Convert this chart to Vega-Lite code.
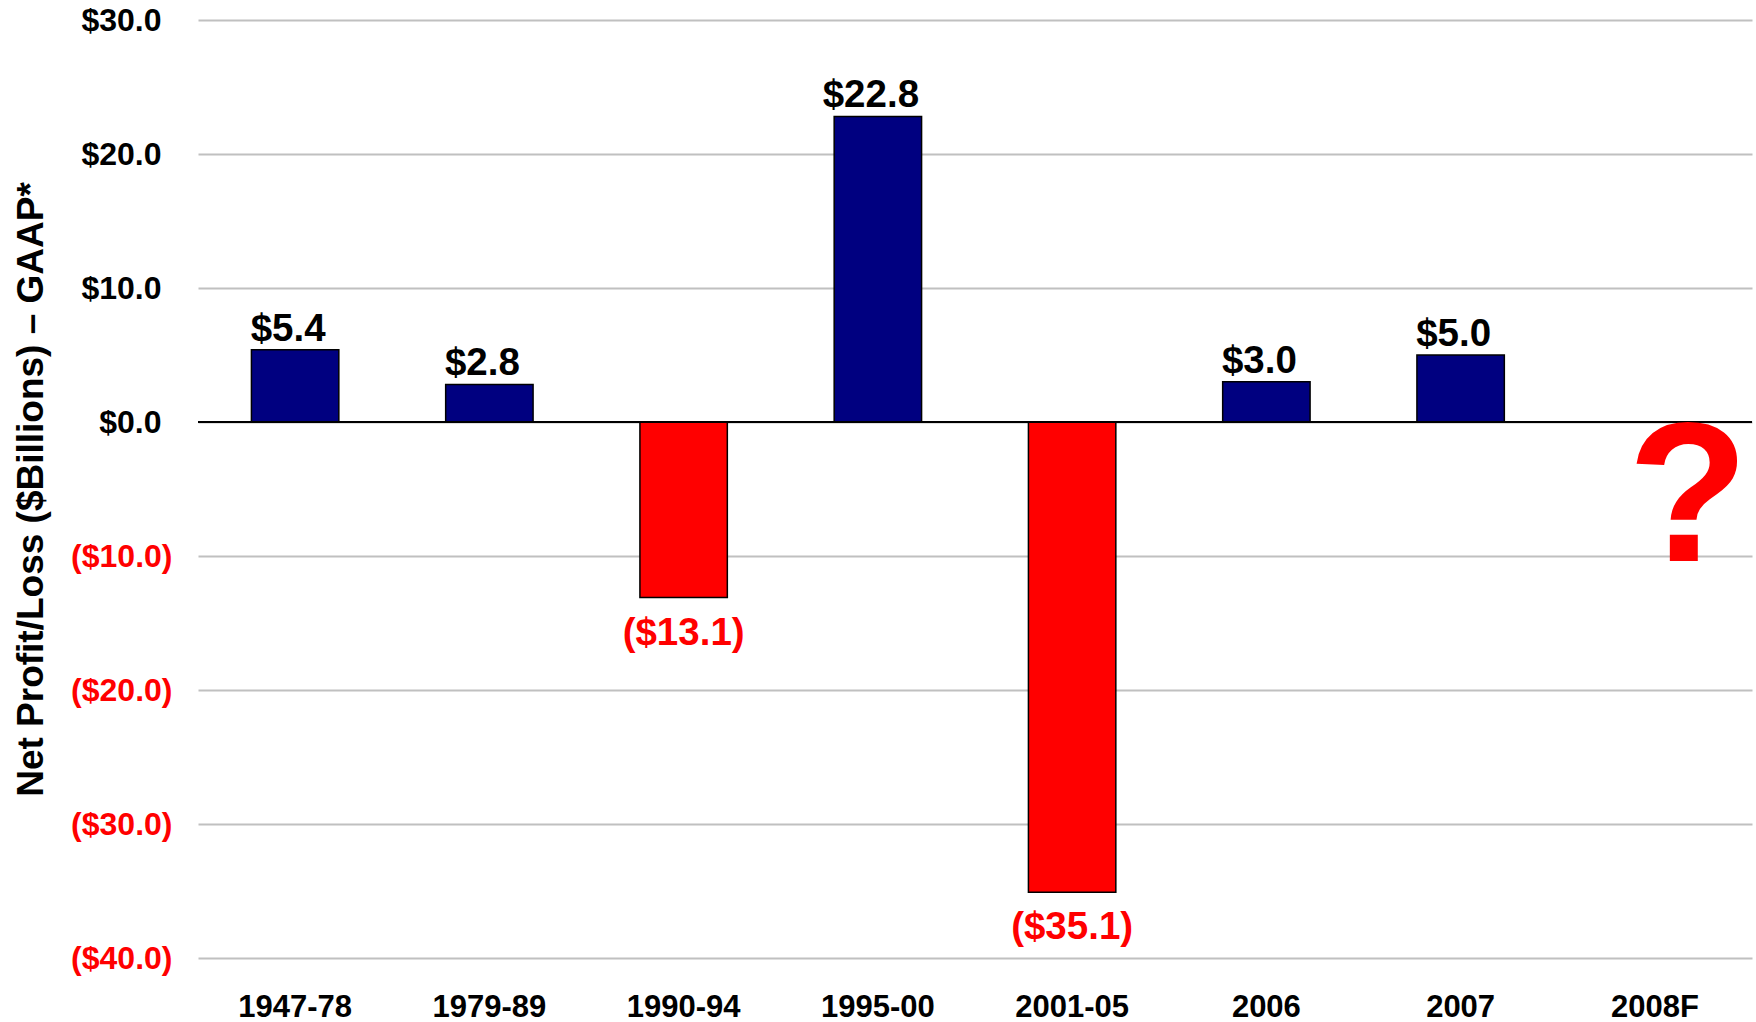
{
  "$schema": "https://vega.github.io/schema/vega-lite/v6.json",
  "width": 1554,
  "height": 938,
  "autosize": {"type": "none"},
  "padding": {"left": 198, "top": 20, "right": 4, "bottom": 64},
  "background": "white",
  "config": {
    "view": {"stroke": null},
    "font": "Liberation Sans"
  },
  "data": {
    "values": [
      {"period": "1947-78", "value": 5.4, "label": "$5.4"},
      {"period": "1979-89", "value": 2.8, "label": "$2.8"},
      {"period": "1990-94", "value": -13.1, "label": "($13.1)"},
      {"period": "1995-00", "value": 22.8, "label": "$22.8"},
      {"period": "2001-05", "value": -35.1, "label": "($35.1)"},
      {"period": "2006", "value": 3.0, "label": "$3.0"},
      {"period": "2007", "value": 5.0, "label": "$5.0"},
      {"period": "2008F", "value": null, "label": "?"}
    ]
  },
  "resolve": {"axis": {"y": "independent"}},
  "encoding": {
    "x": {
      "field": "period",
      "type": "nominal",
      "sort": null,
      "scale": {"paddingInner": 0.55, "paddingOuter": 0.275},
      "axis": {
        "title": null,
        "labelAngle": 0,
        "labelFont": "Liberation Sans",
        "labelFontWeight": "bold",
        "labelFontSize": 31,
        "labelColor": "black",
        "labelPadding": 34,
        "domain": false,
        "ticks": false
      }
    }
  },
  "layer": [
    {
      "mark": {"type": "bar", "stroke": "black", "strokeWidth": 1.5},
      "transform": [{"filter": "datum.value != null"}],
      "encoding": {
        "y": {
          "field": "value",
          "type": "quantitative",
          "scale": {"domain": [-40, 30], "nice": false, "zero": false},
          "axis": {
            "orient": "left",
            "values": [-40, -30, -20, -10],
            "labelExpr": "'($' + format(-datum.value, '.1f') + ')'",
            "labelFont": "Liberation Sans",
            "labelFontWeight": "bold",
            "labelFontSize": 32,
            "labelColor": "#FF0000",
            "labelPadding": 26,
            "ticks": false,
            "domain": false,
            "grid": true,
            "gridColor": "#c0c0c0",
            "gridWidth": 2,
            "title": "Net Profit/Loss ($Billions) – GAAP*",
            "titleFont": "Liberation Sans",
            "titleFontWeight": "bold",
            "titleFontSize": 37,
            "titleColor": "black",
            "titlePadding": 20
          }
        },
        "fill": {
          "condition": {"test": "datum.value < 0", "value": "#FF0000"},
          "value": "#000080"
        }
      }
    },
    {
      "mark": {"type": "rule", "color": "black", "strokeWidth": 2},
      "encoding": {"y": {"datum": 0, "axis": null}, "x": null}
    },
    {
      "transform": [{"filter": "datum.value != null && datum.value >= 0"}],
      "mark": {"type": "text", "font": "Liberation Sans", "fontWeight": "bold", "fontSize": 38.5, "baseline": "alphabetic", "dy": -9, "dx": -7, "color": "black"},
      "encoding": {
        "y": {
          "field": "value",
          "type": "quantitative",
          "axis": {
            "orient": "left",
            "values": [0, 10, 20, 30],
            "labelExpr": "'$' + format(datum.value, '.1f')",
            "labelFont": "Liberation Sans",
            "labelFontWeight": "bold",
            "labelFontSize": 32,
            "labelColor": "black",
            "labelPadding": 37,
            "ticks": false,
            "domain": false,
            "grid": true,
            "gridColor": "#c0c0c0",
            "gridWidth": 2,
            "title": null
          }
        },
        "text": {"field": "label"}
      }
    },
    {
      "transform": [{"filter": "datum.value != null && datum.value < 0"}],
      "mark": {"type": "text", "font": "Liberation Sans", "fontWeight": "bold", "fontSize": 38.5, "baseline": "top", "dy": 17, "color": "#FF0000"},
      "encoding": {
        "y": {"field": "value", "type": "quantitative", "axis": null},
        "text": {"field": "label"}
      }
    },
    {
      "transform": [{"filter": "datum.value == null"}],
      "mark": {"type": "text", "font": "Liberation Sans", "fontWeight": "bold", "fontSize": 198, "baseline": "top", "dy": -17, "dx": 33, "color": "#FF0000"},
      "encoding": {
        "y": {"datum": 0, "axis": null},
        "text": {"field": "label"}
      }
    }
  ]
}
